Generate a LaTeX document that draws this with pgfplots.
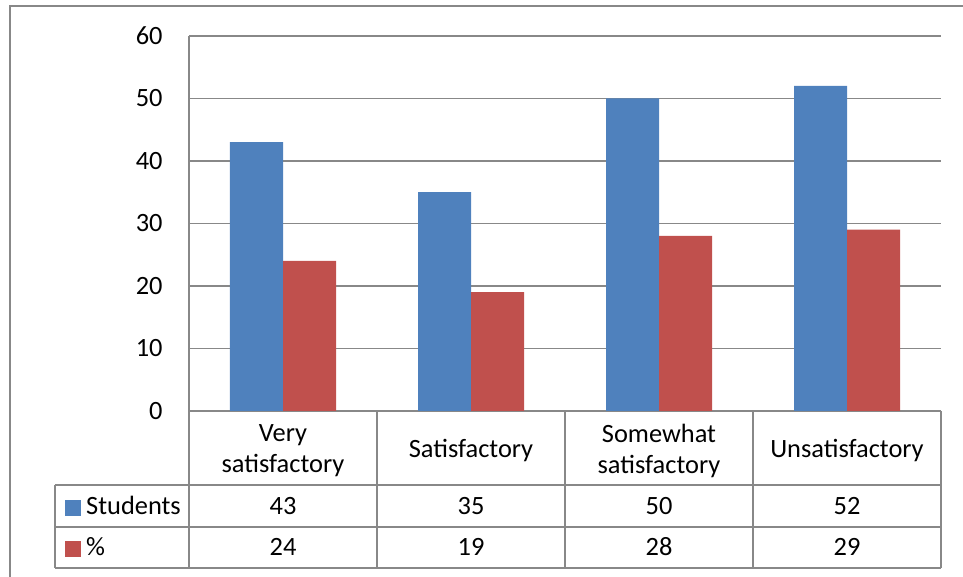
\documentclass[border=0pt]{standalone}
\usepackage{pgfplots}
\pgfplotsset{compat=1.18}
\usepackage{pgfplotstable}
\usepackage{fontspec}
\setmainfont{Carlito}
\definecolor{xblue}{HTML}{4F81BD}
\definecolor{xred}{HTML}{C0504D}
\definecolor{xgray}{HTML}{888888}

\pgfplotstableread{
x Students Pct
0 43 24
1 35 19
2 50 28
3 52 29
}\datatable

\begin{document}
\fontsize{13.2}{15.5}\selectfont
\begin{tikzpicture}
\begin{axis}[
  at={(0pt,0pt)}, anchor=south west,
  scale only axis, width=376pt, height=187.5pt,
  xmin=-0.5, xmax=3.5, ymin=0, ymax=60,
  ytick={0,10,...,60},
  xtick={0,1,2,3},
  xticklabels={{Very\\satisfactory},Satisfactory,{Somewhat\\satisfactory},Unsatisfactory},
  xticklabel style={align=center, anchor=center, yshift=-20pt},
  major tick length=0pt,
  ymajorgrids, grid style={xgray, line width=0.6pt},
  axis x line*=bottom, axis y line*=left,
  axis line style={xgray, line width=0.6pt},
  clip=false,
  /pgf/number format/assume math mode=true,
  yticklabel style={xshift=-8.6pt},
  legend style={at={(-0.16489,-0.22267)}, anchor=north west, draw=none, fill=none,
    inner sep=0pt, column sep=2.5pt, row sep=7.5pt,
    nodes={inner sep=0pt, text height=10pt, text depth=3pt}},
  legend cell align=left,
]
\addplot[forget plot, ybar, bar width=26.5pt, bar shift=-13.25pt, fill=xblue, draw=none]
  table[x=x, y=Students]{\datatable};
\addplot[forget plot, ybar, bar width=26.5pt, bar shift=13.25pt, fill=xred, draw=none]
  table[x=x, y=Pct]{\datatable};
\addplot[forget plot, draw=none, mark=none, nodes near coords, point meta=explicit,
  nodes near coords style={anchor=center, text=black}]
  table[x=x, y expr=-15.2, meta=Students]{\datatable};
\addplot[forget plot, draw=none, mark=none, nodes near coords, point meta=explicit,
  nodes near coords style={anchor=center, text=black}]
  table[x=x, y expr=-21.76, meta=Pct]{\datatable};
\addlegendimage{legend image code/.code={\fill[xblue] (0pt,-3.75pt) rectangle (7.5pt,3.75pt);}}
\addlegendentry{Students}
\addlegendimage{legend image code/.code={\fill[xred] (0pt,-3.75pt) rectangle (7.5pt,3.75pt);}}
\addlegendentry{\%}
\end{axis}
% data table grid
\begin{scope}[xgray, line width=0.6pt]
\draw (-67pt,-37pt) -- (376pt,-37pt);
\draw (-67pt,-58pt) -- (376pt,-58pt);
\draw (-67pt,-78.5pt) -- (376pt,-78.5pt);
\draw (-67pt,-37pt) -- (-67pt,-78.5pt);
\foreach \xx in {0,94,188,282,376} \draw (\xx pt,0pt) -- (\xx pt,-78.5pt);
\end{scope}
% outer chart frame
\draw[xgray, line width=0.75pt] (-89.5pt,-90pt) -- (-89.5pt,202.5pt) -- (400pt,202.5pt);
\pgfresetboundingbox
\path[use as bounding box] (-94.5pt,-83pt) rectangle (387pt,205.5pt);
\end{tikzpicture}
\end{document}
